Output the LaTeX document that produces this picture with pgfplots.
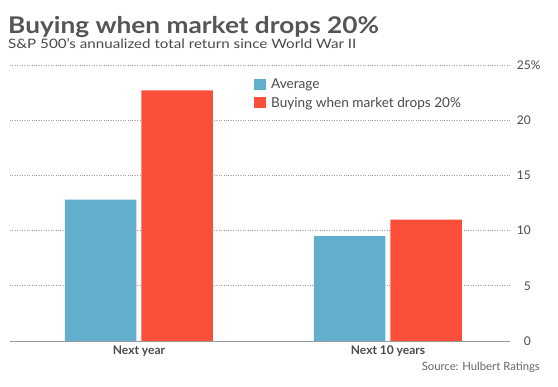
\documentclass[border=0pt]{standalone}
\usepackage{pgfplots}
\pgfplotsset{compat=1.18}
\usepackage{fontspec}
\setmainfont{Lato}
\definecolor{cblue}{HTML}{62AECD}
\definecolor{cred}{HTML}{FC4F3A}
\definecolor{ctitle}{HTML}{555555}
\definecolor{ctext}{HTML}{4A4A4A}
\definecolor{cgrid}{HTML}{9A9A9A}
\begin{document}
\begin{tikzpicture}[x=1pt,y=1pt]
\path[use as bounding box, fill=white] (0,0) rectangle (558,387);
\node[anchor=base west, inner sep=0, text=ctitle, font=\fontsize{23}{26}\selectfont\bfseries, xscale=1.14, transform shape] at (8,353) {Buying when market drops 20\%};
\node[anchor=base west, inner sep=0, text=ctext, font=\fontsize{13}{15}\selectfont, xscale=1.165, transform shape] at (8,338.7) {S\&P 500’s annualized total return since World War II};
\begin{axis}[
  at={(10pt,46pt)}, anchor=south west,
  scale only axis, width=500pt, height=276pt,
  xmin=-0.518, xmax=1.49, ymin=0, ymax=25,
  axis x line*=bottom, axis y line*=right,
  x axis line style={draw=cgrid, line width=0.9pt, -},
  y axis line style={draw=none},
  xtick={0,1}, xticklabels={Next year,Next 10 years},
  ytick={0,5,10,15,20,25}, yticklabels={},
  major tick length=0pt,
  xticklabel style={text=ctext, font=\fontsize{12}{14}\selectfont\bfseries, yshift=-1pt},
  ymajorgrids, grid style={cgrid, dotted, line width=0.7pt},
  clip=false,
  legend style={draw=none, fill=none, at={(rel axis cs:0.488,0.958)}, anchor=north west, inner sep=0pt, row sep=3pt, font=\fontsize{13.6}{15}\selectfont, text=ctext, cells={anchor=west}},
  legend image code/.code={\fill[#1] (0pt,-5.5pt) rectangle (12pt,5.5pt); \path (15pt,0pt);},
]
\addplot[ybar, bar width=0.287, bar shift=-0.154, fill=cblue, draw=none] coordinates {(0,12.8) (1,9.5)};
\addlegendentry{Average}
\addplot[ybar, bar width=0.287, bar shift=0.153, fill=cred, draw=none] coordinates {(0,22.7) (1,11.0)};
\addlegendentry{Buying when market drops 20\%}
\draw[cgrid, line width=0.9pt] (rel axis cs:0,0) -- (rel axis cs:1,0);
\node[anchor=east, inner sep=0, text=ctext, font=\fontsize{12}{14}\selectfont] at (axis cs:1.49,0) [xshift=21pt] {0};
\node[anchor=east, inner sep=0, text=ctext, font=\fontsize{12}{14}\selectfont] at (axis cs:1.49,5) [xshift=21pt] {5};
\node[anchor=east, inner sep=0, text=ctext, font=\fontsize{12}{14}\selectfont] at (axis cs:1.49,10) [xshift=21pt] {10};
\node[anchor=east, inner sep=0, text=ctext, font=\fontsize{12}{14}\selectfont] at (axis cs:1.49,15) [xshift=21pt] {15};
\node[anchor=east, inner sep=0, text=ctext, font=\fontsize{12}{14}\selectfont] at (axis cs:1.49,20) [xshift=21pt] {20};
\node[anchor=east, inner sep=0, text=ctext, font=\fontsize{12}{14}\selectfont] at (axis cs:1.49,25) [xshift=21pt] {25\rlap{\%}};
\end{axis}
\node[anchor=base east, inner sep=0, text=ctext!85, font=\fontsize{11.3}{13}\selectfont] at (540,16) {Source: Hulbert Ratings};
\end{tikzpicture}
\end{document}
